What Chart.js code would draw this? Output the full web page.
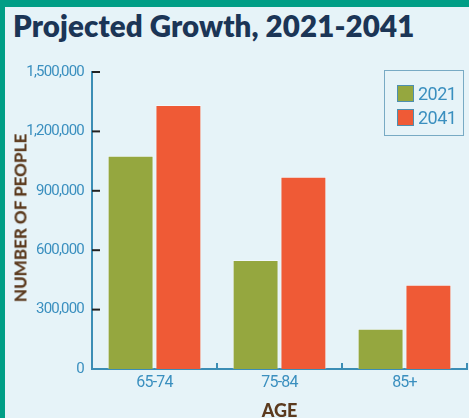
<!DOCTYPE html>
<html>
<head>
<meta charset="utf-8">
<script src="https://cdn.jsdelivr.net/npm/chart.js@4.4.0/dist/chart.umd.min.js"></script>
<style>
  html, body { margin: 0; padding: 0; }
  body { width: 469px; height: 418px; background: #009e86; position: relative; overflow: hidden; }
  .panel { position: absolute; left: 5px; top: 7px; width: 464px; height: 411px; background: #e6f3f8; }
  .title { position: absolute; left: 13px; top: 8px; font-family: Lato, "Open Sans", sans-serif; font-weight: 800;
           font-size: 29.5px; color: #1b3556; white-space: nowrap; letter-spacing: 0.1px; }
  .axisTitle { position: absolute; font-family: Lato, "Open Sans", sans-serif; font-weight: 900; color: #5b3a1e;
               white-space: nowrap; line-height: 1; transform: translate(-50%, -50%); }
  #yTitle { left: 19.5px; top: 218px; font-size: 17px; transform: translate(-50%, -50%) rotate(-90deg); }
  #xTitle { left: 279.5px; top: 410px; font-size: 18px; }
  #chartWrap { position: absolute; left: 0; top: 0; width: 469px; height: 418px; }
  .legend { position: absolute; left: 384px; top: 70px; width: 80px; height: 66px; border: 1.5px solid #78aac4; box-sizing: border-box; }
  .legend .item { position: absolute; left: 12px; height: 18px; display: flex; align-items: center; letter-spacing: -0.5px;
                  font-family: Roboto, sans-serif; font-size: 18px; color: #3a8fbf; }
  .legend .sw { width: 17px; height: 17px; border: 1px solid #4d8fb0; margin-right: 4px; box-sizing: border-box; }
</style>
</head>
<body>
<div class="panel"></div>
<div class="title">Projected Growth, 2021-2041</div>
<div id="chartWrap"><canvas id="chart" width="469" height="418"></canvas></div>
<div class="axisTitle" id="yTitle">NUMBER OF PEOPLE</div>
<div class="axisTitle" id="xTitle">AGE</div>
<div class="legend" id="legend"></div>
<script>
// chart data
const ageGroups = ['65-74', '75-84', '85+']
const people2021 = [1077000, 551000, 203000]
const people2041 = [1333000, 971000, 426000]
const yTicks = [0, 300000, 600000, 900000, 1200000, 1500000]
const seriesNames = ['2021', '2041']

const green = '#95a73f'
const orange = '#ef5a36'
const axisBlue = '#3b8db5'
const labelBlue = '#3a8fbf'
const tickFont = 'Roboto, sans-serif'

// narrow the tick labels a little, the print version uses a condensed face
const narrowText = {
    id: 'narrowText',
    beforeDraw(chart) { chart.ctx.letterSpacing = '-0.8px' }
}

// ticks drawn inward like the original print chart
const tickMarks = {
    id: 'tickMarks',
    afterDraw(chart) {
        const ctx = chart.ctx
        const y = chart.scales.y
        const x = chart.scales.x
        ctx.save()
        ctx.strokeStyle = '#222'
        ctx.lineWidth = 2
        yTicks.forEach(v => {
            if (v === 0) return
            const py = y.getPixelForValue(v)
            ctx.beginPath()
            ctx.moveTo(y.right, py)
            ctx.lineTo(y.right + 8, py)
            ctx.stroke()
        })
        ctx.strokeStyle = axisBlue
        for (let i = 0; i < ageGroups.length; i++) {
            const px = x.getPixelForValue(i) + (x.getPixelForValue(1) - x.getPixelForValue(0)) / 2
            ctx.beginPath()
            ctx.moveTo(px, x.top)
            ctx.lineTo(px, x.top - 6)
            ctx.stroke()
        }
        ctx.restore()
    }
}

const ctx = document.getElementById('chart')
new Chart(ctx, {
    type: 'bar',
    data: {
        labels: ageGroups,
        datasets: [
            { label: seriesNames[0], data: people2021, backgroundColor: green, borderColor: 'rgba(255,255,255,0.45)', borderWidth: 1 },
            { label: seriesNames[1], data: people2041, backgroundColor: orange, borderColor: 'rgba(255,255,255,0.45)', borderWidth: 1 }
        ]
    },
    options: {
        responsive: false,
        animation: false,
        devicePixelRatio: 1,
        layout: { padding: { left: 0, right: 2, top: 72, bottom: 0 } },
        plugins: { legend: { display: false }, tooltip: { enabled: false } },
        datasets: { bar: { categoryPercentage: 0.765, barPercentage: 0.96 } },
        scales: {
            x: {
                grid: { display: false, drawTicks: false },
                border: { color: axisBlue, width: 2 },
                ticks: { color: labelBlue, padding: 4, font: { family: tickFont, size: 16 } },
                afterFit(scale) { scale.height = 49 }
            },
            y: {
                min: 0, max: 1500000,
                grid: { display: false, drawTicks: false },
                border: { color: axisBlue, width: 2 },
                afterBuildTicks(scale) { scale.ticks = yTicks.map(v => ({ value: v })) },
                ticks: {
                    color: labelBlue, padding: 8,
                    font: { family: tickFont, size: 15 },
                    callback: v => v.toLocaleString('en-US')
                },
                afterFit(scale) { scale.width = 92 }
            }
        }
    },
    plugins: [narrowText, tickMarks]
})

// legend
const legend = document.getElementById('legend')
const colors = [green, orange]
seriesNames.forEach((name, i) => {
    const item = document.createElement('div')
    item.className = 'item'
    item.style.top = (13 + i * 24) + 'px'
    item.innerHTML = `<span class="sw" style="background:${colors[i]}"></span>${name}`
    legend.appendChild(item)
})
</script>
</body>
</html>
